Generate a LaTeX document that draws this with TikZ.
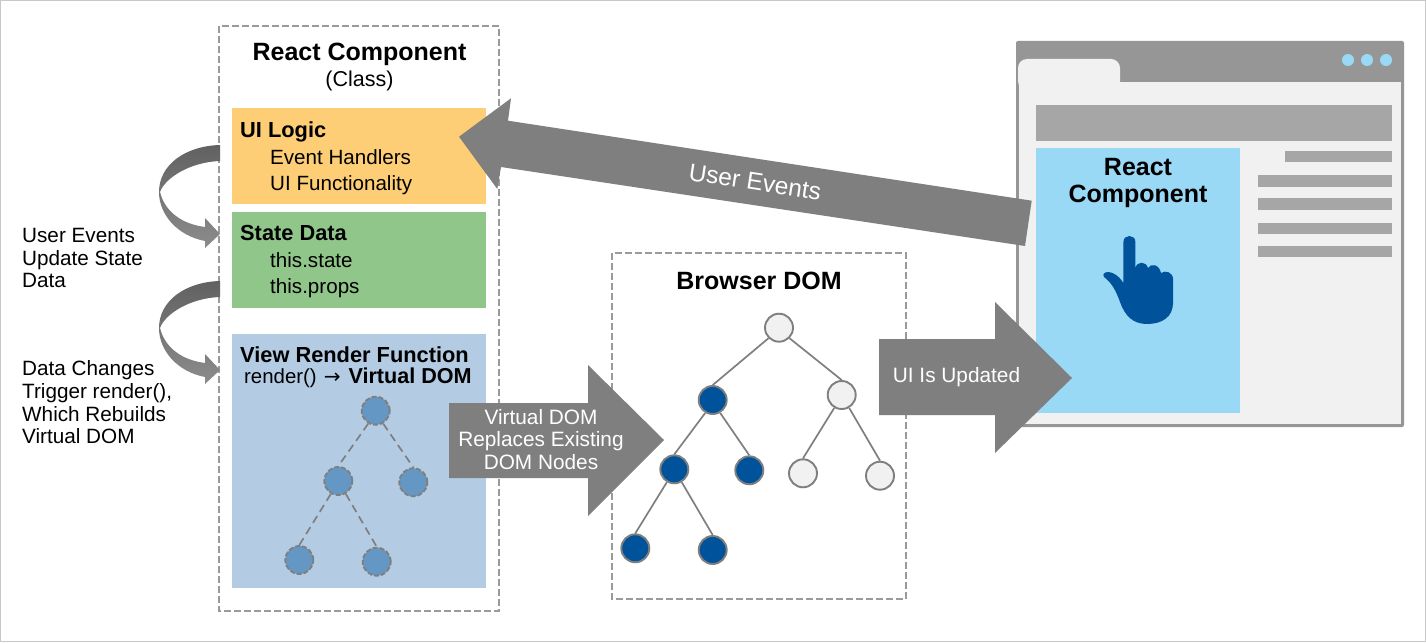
\documentclass[tikz,border=0pt]{standalone}
\usepackage{fontspec}
\setmainfont{Liberation Sans}
\newfontfamily\symfont{DejaVu Sans}
\definecolor{frameC}{HTML}{C8C8C8}
\definecolor{dashC}{HTML}{9A9A9A}
\definecolor{arrowC}{HTML}{7F7F7F}
\definecolor{winC}{HTML}{969696}
\definecolor{paneC}{HTML}{F1F1F1}
\definecolor{barC}{HTML}{A6A6A6}
\definecolor{skyC}{HTML}{9AD9F5}
\definecolor{handC}{HTML}{00539B}
\definecolor{orangeC}{HTML}{FDCE76}
\definecolor{greenC}{HTML}{91C68A}
\definecolor{steelC}{HTML}{B3CCE3}
\definecolor{vnodeC}{HTML}{6497C4}
\tikzset{
  dashbox/.style={draw=dashC,line width=2.4pt,dash pattern=on 7pt off 3pt},
  panel/.style={fill=#1,draw=none},
  bar/.style={fill=barC,draw=none},
  bigarrow/.style={fill=arrowC,draw=none},
  curl/.style={top color=black!62,bottom color=black!45,draw=none},
  lbl/.style={font=\fontsize{20.7}{22.7}\selectfont,align=left,anchor=north west,inner sep=0pt},
  head/.style={font=\fontsize{25}{27}\bfseries\selectfont,inner sep=0pt},
  sub/.style={font=\fontsize{21.8}{26}\bfseries\selectfont,inner sep=0pt,anchor=base west},
  item/.style={font=\fontsize{20.6}{26}\selectfont,inner sep=0pt,anchor=base west},
  wlbl/.style={font=\fontsize{20.8}{22.6}\selectfont,text=white,align=center,inner sep=0pt},
  dnode/.style={circle,minimum size=28pt,inner sep=0pt,line width=1.9pt,draw=arrowC,fill=handC},
  lnode/.style={circle,minimum size=28pt,inner sep=0pt,line width=1.9pt,draw=arrowC,fill=paneC},
  vnode/.style={circle,minimum size=28pt,inner sep=0pt,line width=1.9pt,draw=arrowC,fill=vnodeC,dash pattern=on 5pt off 2pt},
  dedge/.style={draw=arrowC,line width=1.7pt},
  vedge/.style={draw=arrowC,line width=1.7pt,dash pattern=on 8pt off 5pt},
}
\begin{document}
\begin{tikzpicture}[x=1pt,y=-1pt]
\useasboundingbox (0,0) rectangle (1426,644);
\fill[white] (0,0) rectangle (1426,644);
\draw[frameC,line width=1pt] (0.5,0.5) rectangle (1425.5,641.5);
% component box
\draw[dashbox] (219,26) rectangle (499,611);
\fill[panel=orangeC] (232,108) rectangle (486,204);
\fill[panel=greenC] (232,212) rectangle (486,308);
\fill[panel=steelC] (232,334) rectangle (486,588);
\node[head,anchor=base] (title) at (359.5,61) {React Component};
\node[font=\fontsize{21.5}{24}\selectfont,inner sep=0pt,anchor=base] (cls) at (359.5,86.5) {(Class)};
\node[sub] (ui) at (240,138) {UI Logic};
\node[item] (eh) at (270,165) {Event Handlers};
\node[item] (uf) at (270,191) {UI Functionality};
\node[sub] (sd) at (240,241) {State Data};
\node[item] (ts) at (270,268) {this.state};
\node[item] (tp) at (270,294) {this.props};
\node[sub] (vr) at (240,362) {View Render Function};
\node[item] (rv) at (244,383) {\fontsize{20.4}{24}\selectfont render()\hspace{7pt}{\symfont\fontsize{20}{24}\selectfont →}\hspace{8pt}{\fontsize{21.6}{24}\bfseries\selectfont Virtual DOM}};
% side labels
\node[lbl] (l1) at (22,228) {User Events\\Update State\\Data};
\node[lbl] (l2) at (22,360.5) {Data Changes\\Trigger render(),\\Which Rebuilds\\Virtual DOM};
% curled arrows
\foreach \d in {0,136}{
\begin{scope}[yshift=-\d pt]
\shade[curl] (220,145) .. controls (185,146) and (159,165) .. (159,192)
  .. controls (159,215) and (178,236) .. (205,241) -- (205,248) -- (220,234) -- (205,218) -- (205,227)
  .. controls (182,224) and (165,212) .. (160,192)
  .. controls (165,178) and (190,162) .. (220,161) -- cycle;
\end{scope}}
% virtual tree
\node[vnode] (v1) at (375.7,410.7) {};
\node[vnode] (v2) at (338.3,481) {};
\node[vnode] (v3) at (413.3,482.3) {};
\node[vnode] (v4) at (299.3,560) {};
\node[vnode] (v5) at (376.7,561.7) {};
\draw[vedge] (v1.240) -- (v2.north);
\draw[vedge] (v1.300) -- (v3.north);
\draw[vedge] (v2.240) -- (v4.north);
\draw[vedge] (v2.300) -- (v5.north);
% browser DOM
\draw[dashbox] (612,253) rectangle (906,599);
\node[head,anchor=base] (bd) at (759,290) {Browser DOM};
\node[lnode] (d1) at (779,327.7) {};
\node[dnode] (d2) at (712.7,400) {};
\node[lnode] (d3) at (841.7,395) {};
\node[dnode] (d4) at (674.3,469.3) {};
\node[dnode] (d5) at (749.3,470.3) {};
\node[lnode] (d6) at (803,473.3) {};
\node[lnode] (d7) at (880,475.7) {};
\node[dnode] (d8) at (635.3,548.3) {};
\node[dnode] (d9) at (712.7,550) {};
\draw[dedge] (d1.225) -- (d2.north);
\draw[dedge] (d1.315) -- (d3.north);
\draw[dedge] (d2.240) -- (d4.north);
\draw[dedge] (d2.300) -- (d5.north);
\draw[dedge] (d3.240) -- (d6.north);
\draw[dedge] (d3.300) -- (d7.north);
\draw[dedge] (d4.240) -- (d8.north);
\draw[dedge] (d4.300) -- (d9.north);
% browser window
\fill[winC,rounded corners=2pt] (1016,41) rectangle (1404,427);
\fill[paneC] (1019,82) rectangle (1401,424);
\fill[paneC,rounded corners=9pt] (1018,90) -- (1018,59) -- (1120,59) -- (1120,90) -- cycle;
\fill[paneC] (1018.5,75) rectangle (1120,82);
\foreach \x in {1348,1367,1386} \fill[skyC] (\x,60) circle (6);
\fill[bar] (1036,105) rectangle (1392,141);
\fill[panel=skyC] (1036,148) rectangle (1240,413);
\fill[bar] (1285,151) rectangle (1392,162);
\fill[bar] (1258,175) rectangle (1392,187);
\fill[bar] (1258,198) rectangle (1392,210);
\fill[bar] (1258,223) rectangle (1392,234);
\fill[bar] (1258,246) rectangle (1392,257);
\node[font=\fontsize{25}{27}\bfseries\selectfont,align=center,inner sep=0pt] (rc) at (1138,183) {React\\Component};
% hand
\fill[handC] (1123.4,283) -- (1123.4,242) .. controls (1123.4,234) and (1135.4,234) .. (1135.4,242)
 -- (1135.4,268)
 .. controls (1137,261) and (1146,261) .. (1148,268)
 .. controls (1151,263) and (1159,264) .. (1161,273)
 .. controls (1165,270) and (1173,272) .. (1173,279)
 -- (1173,303) .. controls (1173,317) and (1162,324) .. (1147,324)
 .. controls (1133,324) and (1125,316) .. (1120,302)
 .. controls (1116,291) and (1112,283) .. (1104,277)
 .. controls (1102,274) and (1105,272) .. (1108,272)
 .. controls (1113,272) and (1119,276) .. (1123.4,283) -- cycle;
% big arrows
\fill[bigarrow] (459,136.7) -- (511,98.3) -- (508,120.7) -- (1031.7,200.7) -- (1025,246) -- (501,167) -- (497.3,189) -- cycle;
\node[wlbl,font=\fontsize{24.5}{27}\selectfont,rotate=-8.7] (ue) at (755,182) {User Events};
\fill[bigarrow] (449,403) -- (588,403) -- (588,365) -- (664,440) -- (588,516) -- (588,478) -- (449,478) -- cycle;
\node[wlbl] (vd) at (541,439.5) {Virtual DOM\\Replaces Existing\\DOM Nodes};
\fill[bigarrow] (879,339) -- (995,339) -- (995,302) -- (1072,378) -- (995,453) -- (995,415) -- (879,415) -- cycle;
\node[wlbl] (up) at (956.5,377) {UI Is Updated};
\end{tikzpicture}
\end{document}
